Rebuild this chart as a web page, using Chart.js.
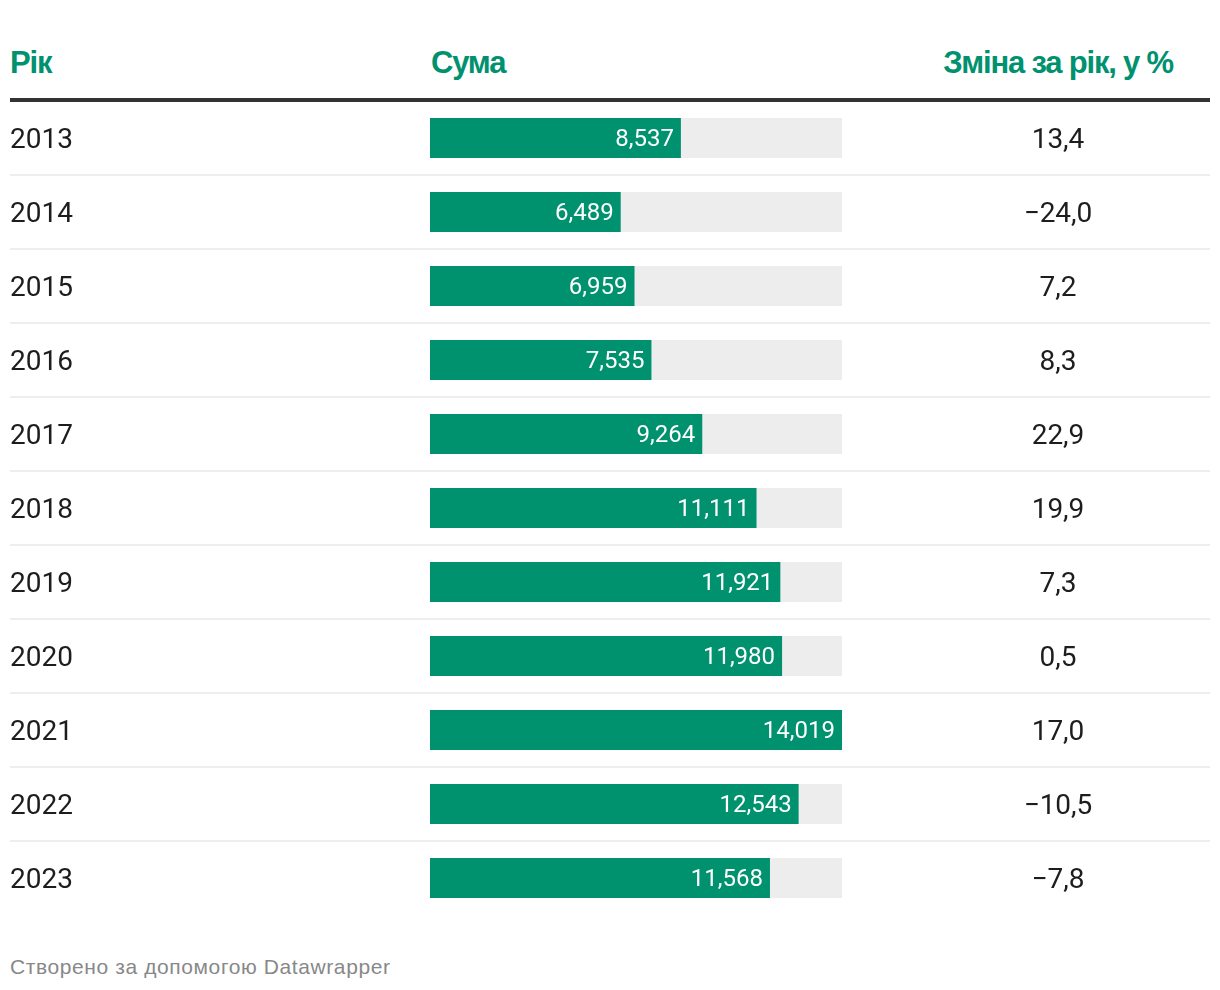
<!DOCTYPE html>
<html>
<head>
    <meta charset="utf-8">
    <title>Сума за роками</title>
    <script src="https://cdn.jsdelivr.net/npm/chart.js"></script>
    <style>
        body {
            margin: 0;
            background: #fff;
            font-family: Roboto, "Noto Sans", sans-serif;
            color: #1d1d1d;
        }

        .wrap {
            position: relative;
            width: 1220px;
            height: 990px;
        }

        .head {
            position: absolute;
            top: 45px;
            font-family: "Liberation Sans", Arial, sans-serif;
            font-weight: bold;
            font-size: 31px;
            line-height: 36px;
            color: #00916f;
            letter-spacing: -1.2px;
            white-space: nowrap;
        }

        .rule {
            position: absolute;
            left: 10px;
            top: 98px;
            width: 1200px;
            height: 4px;
            background: #333;
        }

        .row {
            position: absolute;
            left: 10px;
            width: 1200px;
            height: 72px;
            border-bottom: 2px solid #eee;
        }

        .row.last {
            border-bottom: none;
        }

        .year {
            position: absolute;
            left: 0;
            top: 20px;
            font-size: 28px;
            line-height: 34px;
        }

        .change {
            position: absolute;
            left: 948px;
            width: 200px;
            top: 20px;
            text-align: center;
            font-size: 28px;
            line-height: 34px;
        }

        .chart-box {
            position: absolute;
            left: 430px;
            top: 101px;
            width: 412px;
            height: 814px;
        }

        .footer {
            position: absolute;
            left: 10px;
            top: 955px;
            font-family: "Liberation Sans", Arial, sans-serif;
            font-size: 21px;
            letter-spacing: 0.6px;
            color: #888;
            white-space: nowrap;
        }
    </style>
</head>

<body>
    <div class="wrap" id="wrap">
        <div class="head" style="left: 10px;">Рік</div>
        <div class="head" style="left: 431px;">Сума</div>
        <div class="head" style="left: 908px; width: 300px; text-align: center;">Зміна за рік, у %</div>
        <div class="rule"></div>

        <div class="chart-box">
            <canvas id="bars"></canvas>
        </div>

        <div class="footer">Створено за допомогою Datawrapper</div>
    </div>

    <script>
        var years = ["2013", "2014", "2015", "2016", "2017", "2018", "2019", "2020", "2021", "2022", "2023"];
        var sums = [8537, 6489, 6959, 7535, 9264, 11111, 11921, 11980, 14019, 12543, 11568];
        var changes = ["13,4", "\u221224,0", "7,2", "8,3", "22,9", "19,9", "7,3", "0,5", "17,0", "\u221210,5", "\u22127,8"];

        var green = "#00916f";
        var track = "#ededed";
        var maxSum = Math.max.apply(null, sums);

        // text columns
        var wrap = document.getElementById("wrap");
        for (var i = 0; i < years.length; i++) {
            var row = document.createElement("div");
            row.className = "row" + (i == years.length - 1 ? " last" : "");
            row.style.top = (102 + 74 * i) + "px";

            var y = document.createElement("div");
            y.className = "year";
            y.textContent = years[i];
            row.appendChild(y);

            var c = document.createElement("div");
            c.className = "change";
            c.textContent = changes[i];
            row.appendChild(c);

            wrap.appendChild(row);
        }

        // value labels inside the bars
        var valueLabels = {
            id: "valueLabels",
            afterDatasetsDraw: function (chart) {
                var ctx = chart.ctx;
                var meta = chart.getDatasetMeta(1);
                ctx.save();
                ctx.fillStyle = "#fff";
                ctx.font = "24px Roboto";
                ctx.textAlign = "right";
                ctx.textBaseline = "middle";
                meta.data.forEach(function (bar, idx) {
                    ctx.fillText(sums[idx].toLocaleString("en-US"), bar.x - 7, bar.y + 2);
                });
                ctx.restore();
            }
        };

        new Chart(document.getElementById("bars"), {
            type: "bar",
            data: {
                labels: years,
                datasets: [{
                    data: years.map(function () { return maxSum; }),
                    backgroundColor: track,
                    grouped: false,
                    order: 2,
                    barPercentage: 40 / 74,
                    categoryPercentage: 1
                }, {
                    data: sums,
                    backgroundColor: green,
                    grouped: false,
                    order: 1,
                    barPercentage: 40 / 74,
                    categoryPercentage: 1
                }]
            },
            options: {
                indexAxis: "y",
                responsive: true,
                maintainAspectRatio: false,
                animation: false,
                layout: { padding: 0 },
                plugins: {
                    legend: { display: false },
                    tooltip: { enabled: false }
                },
                scales: {
                    x: { display: false, min: 0, max: maxSum },
                    y: { display: false }
                }
            },
            plugins: [valueLabels]
        });
    </script>
</body>
</html>
